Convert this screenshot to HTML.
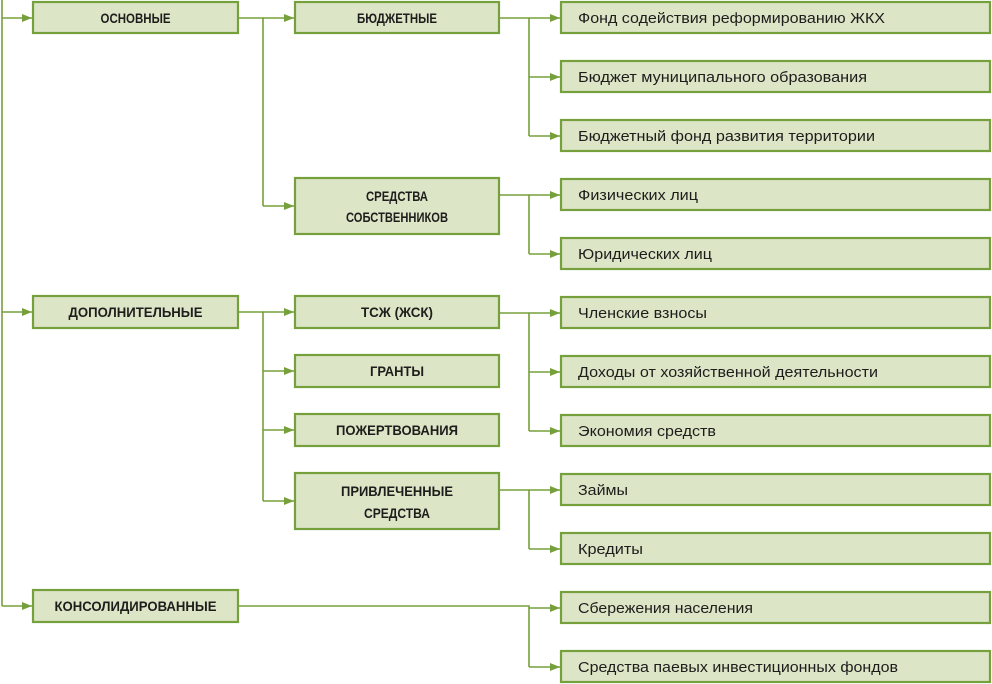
<!DOCTYPE html>
<html><head><meta charset="utf-8"><style>
html,body{margin:0;padding:0;background:#fff;}
svg{display:block;}
.b{fill:#dde5c7;stroke:#76a03c;stroke-width:2.2;}
.l{stroke:#76a03c;stroke-width:1.6;fill:none;}
.h{font-family:"Liberation Sans",sans-serif;font-weight:bold;font-size:14px;fill:#1d1d1b;}
.t{font-family:"Liberation Sans",sans-serif;font-size:15px;fill:#1d1d1b;}
</style></head><body>
<svg width="992" height="684" viewBox="0 0 992 684">
<defs><marker id="a" markerWidth="10" markerHeight="8" refX="10" refY="4" orient="auto" markerUnits="userSpaceOnUse"><path d="M0,0 L10,4 L0,8 z" fill="#76a03c"/></marker></defs>
<!-- trunk -->
<path class="l" d="M2,0 V606"/>
<path class="l" d="M2,18 H32" marker-end="url(#a)"/>
<path class="l" d="M2,312 H32" marker-end="url(#a)"/>
<path class="l" d="M2,606 H32" marker-end="url(#a)"/>
<!-- col1 -> col2 -->
<path class="l" d="M238,18 H263 V206"/>
<path class="l" d="M263,18 H294" marker-end="url(#a)"/>
<path class="l" d="M263,206 H294" marker-end="url(#a)"/>
<path class="l" d="M238,312 H263 V501"/>
<path class="l" d="M263,312 H294" marker-end="url(#a)"/>
<path class="l" d="M263,371 H294" marker-end="url(#a)"/>
<path class="l" d="M263,430 H294" marker-end="url(#a)"/>
<path class="l" d="M263,501 H294" marker-end="url(#a)"/>
<!-- col2 -> col3 -->
<path class="l" d="M499,18 H529 V136"/>
<path class="l" d="M529,18 H560" marker-end="url(#a)"/>
<path class="l" d="M529,77 H560" marker-end="url(#a)"/>
<path class="l" d="M529,136 H560" marker-end="url(#a)"/>
<path class="l" d="M499,195 H529 V254"/>
<path class="l" d="M529,195 H560" marker-end="url(#a)"/>
<path class="l" d="M529,254 H560" marker-end="url(#a)"/>
<path class="l" d="M499,313 H529 V431"/>
<path class="l" d="M529,313 H560" marker-end="url(#a)"/>
<path class="l" d="M529,372 H560" marker-end="url(#a)"/>
<path class="l" d="M529,431 H560" marker-end="url(#a)"/>
<path class="l" d="M499,490 H529 V549"/>
<path class="l" d="M529,490 H560" marker-end="url(#a)"/>
<path class="l" d="M529,549 H560" marker-end="url(#a)"/>
<path class="l" d="M238,606 H529 V667"/>
<path class="l" d="M529,608 H560" marker-end="url(#a)"/>
<path class="l" d="M529,667 H560" marker-end="url(#a)"/>
<!-- col1 boxes -->
<rect class="b" x="33" y="2" width="205" height="31"/>
<text class="h" x="135.5" y="23" text-anchor="middle" textLength="70" lengthAdjust="spacingAndGlyphs">ОСНОВНЫЕ</text>
<rect class="b" x="33" y="296" width="205" height="32"/>
<text class="h" x="135.5" y="317" text-anchor="middle" textLength="134" lengthAdjust="spacingAndGlyphs">ДОПОЛНИТЕЛЬНЫЕ</text>
<rect class="b" x="33" y="590" width="205" height="32"/>
<text class="h" x="135.5" y="611" text-anchor="middle" textLength="162" lengthAdjust="spacingAndGlyphs">КОНСОЛИДИРОВАННЫЕ</text>
<!-- col2 boxes -->
<rect class="b" x="295" y="2" width="204" height="31"/>
<text class="h" x="397" y="23" text-anchor="middle" textLength="80" lengthAdjust="spacingAndGlyphs">БЮДЖЕТНЫЕ</text>
<rect class="b" x="295" y="178" width="204" height="56"/>
<text class="h" x="397" y="201" text-anchor="middle" textLength="62" lengthAdjust="spacingAndGlyphs">СРЕДСТВА</text>
<text class="h" x="397" y="222" text-anchor="middle" textLength="102" lengthAdjust="spacingAndGlyphs">СОБСТВЕННИКОВ</text>
<rect class="b" x="295" y="296" width="204" height="32"/>
<text class="h" x="397" y="317" text-anchor="middle" textLength="72" lengthAdjust="spacingAndGlyphs">ТСЖ (ЖСК)</text>
<rect class="b" x="295" y="355" width="204" height="32"/>
<text class="h" x="397" y="376" text-anchor="middle" textLength="54" lengthAdjust="spacingAndGlyphs">ГРАНТЫ</text>
<rect class="b" x="295" y="414" width="204" height="32"/>
<text class="h" x="397" y="435" text-anchor="middle" textLength="122" lengthAdjust="spacingAndGlyphs">ПОЖЕРТВОВАНИЯ</text>
<rect class="b" x="295" y="473" width="204" height="56"/>
<text class="h" x="397" y="496" text-anchor="middle" textLength="112" lengthAdjust="spacingAndGlyphs">ПРИВЛЕЧЕННЫЕ</text>
<text class="h" x="397" y="518" text-anchor="middle" textLength="66" lengthAdjust="spacingAndGlyphs">СРЕДСТВА</text>
<!-- col3 boxes -->
<g>
<rect class="b" x="561" y="2" width="429" height="31"/>
<text class="t" x="578" y="23" textLength="307" lengthAdjust="spacingAndGlyphs">Фонд содействия реформированию ЖКХ</text>
<rect class="b" x="561" y="61" width="429" height="31"/>
<text class="t" x="578" y="82" textLength="289" lengthAdjust="spacingAndGlyphs">Бюджет муниципального образования</text>
<rect class="b" x="561" y="120" width="429" height="31"/>
<text class="t" x="578" y="141" textLength="297" lengthAdjust="spacingAndGlyphs">Бюджетный фонд развития территории</text>
<rect class="b" x="561" y="179" width="429" height="31"/>
<text class="t" x="578" y="200" textLength="120" lengthAdjust="spacingAndGlyphs">Физических лиц</text>
<rect class="b" x="561" y="238" width="429" height="31"/>
<text class="t" x="578" y="259" textLength="134" lengthAdjust="spacingAndGlyphs">Юридических лиц</text>
<rect class="b" x="561" y="297" width="429" height="31"/>
<text class="t" x="578" y="318" textLength="129" lengthAdjust="spacingAndGlyphs">Членские взносы</text>
<rect class="b" x="561" y="356" width="429" height="31"/>
<text class="t" x="578" y="377" textLength="300" lengthAdjust="spacingAndGlyphs">Доходы от хозяйственной деятельности</text>
<rect class="b" x="561" y="415" width="429" height="31"/>
<text class="t" x="578" y="436" textLength="138" lengthAdjust="spacingAndGlyphs">Экономия средств</text>
<rect class="b" x="561" y="474" width="429" height="31"/>
<text class="t" x="578" y="495" textLength="50" lengthAdjust="spacingAndGlyphs">Займы</text>
<rect class="b" x="561" y="533" width="429" height="31"/>
<text class="t" x="578" y="554" textLength="65" lengthAdjust="spacingAndGlyphs">Кредиты</text>
<rect class="b" x="561" y="592" width="429" height="31"/>
<text class="t" x="578" y="613" textLength="175" lengthAdjust="spacingAndGlyphs">Сбережения населения</text>
<rect class="b" x="561" y="651" width="429" height="31"/>
<text class="t" x="578" y="672" textLength="320" lengthAdjust="spacingAndGlyphs">Средства паевых инвестиционных фондов</text>
</g>
</svg>
</body></html>
